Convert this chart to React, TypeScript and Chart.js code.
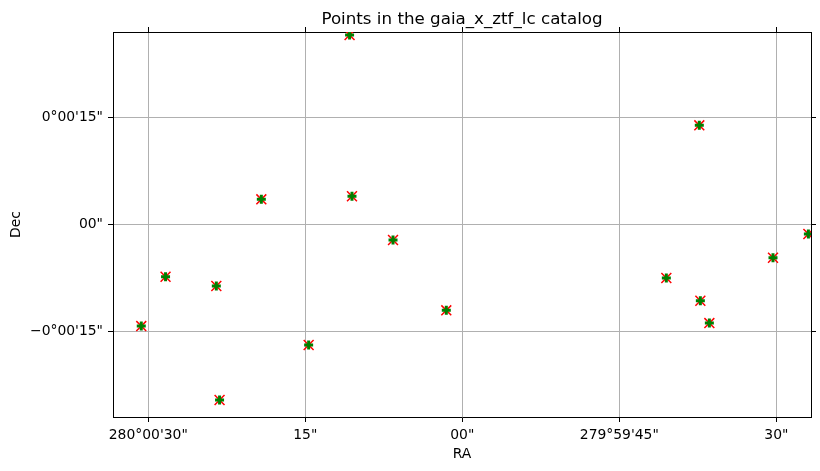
import React, { useEffect, useRef } from "react";
import { Chart, registerables } from "chart.js";

Chart.register(...registerables);

// RA offset from 280°00'00" in arcsec, Dec offset from 0°00'00" in arcsec
const raOffsets = [10.77, -22.64, 19.2, 10.54, 6.62, 28.35, 23.5, 30.67, 14.68, 23.19, 1.53, -19.49, -22.74, -23.6, -29.68, -33.06];
const decOffsets = [26.54, 13.88, 3.5, 3.93, -2.2, -7.35, -8.65, -14.26, -16.92, -24.63, -12.06, -7.53, -10.71, -13.84, -4.68, -1.36];

const raTickValues = [30, 15, 0, -15, -30];
const raTickLabels = ["280°00'30\"", "15\"", "00\"", "279°59'45\"", "30\""];
const decTickValues = [15, 0, -15];
const decTickLabels = ["0°00'15\"", "00\"", "\u22120°00'15\""];

const titleText = "Points in the gaia_x_ztf_lc catalog";
const xLabel = "RA";
const yLabel = "Dec";

const FONT = "'DejaVu Sans', sans-serif";

export default function App() {
  const ref = useRef<HTMLCanvasElement>(null);
  useEffect(() => {
    if (!ref.current) return;
    const pts = raOffsets.map((x, i) => ({ x, y: decOffsets[i] }));
    const setTicks = (vals: number[]) => (s: any) => {
      s.ticks = vals.map((v) => ({ value: v }));
    };
    const chart = new Chart(ref.current, {
      type: "scatter",
      data: {
        datasets: [
          {
            data: pts,
            pointStyle: "cross",
            pointRadius: 4.5,
            borderColor: "#008000",
            backgroundColor: "#008000",
            borderWidth: 3,
          },
          {
            data: pts,
            pointStyle: "crossRot",
            pointRadius: 7,
            borderColor: "#ff0000",
            backgroundColor: "#ff0000",
            borderWidth: 1.5,
          },
        ],
      },
      options: {
        animation: false,
        responsive: false,
        devicePixelRatio: 1,
        layout: { padding: 0 },
        plugins: {
          legend: { display: false },
          tooltip: { enabled: false },
          title: { display: false },
        },
        scales: {
          x: {
            type: "linear",
            position: "bottom",
            reverse: true,
            min: -33.31,
            max: 33.37,
            afterBuildTicks: setTicks(raTickValues),
            afterFit: (s: any) => {
              s.height = 54;
            },
            ticks: {
              color: "#000",
              font: { family: FONT, size: 13.9 },
              padding: 5,
              maxRotation: 0,
              autoSkip: false,
              callback: (v: any) => raTickLabels[raTickValues.indexOf(Number(v))] ?? "",
            },
            grid: { color: "#b0b0b0", lineWidth: 1, tickColor: "#000", tickLength: 5 },
            border: { display: true, color: "#000", width: 1 },
            title: {
              display: true,
              text: xLabel,
              color: "#000",
              font: { family: FONT, size: 13.9 },
              padding: { top: 0, bottom: 8 },
            },
          },
          x2: {
            type: "linear",
            position: "top",
            reverse: true,
            min: -33.31,
            max: 33.37,
            afterBuildTicks: setTicks(raTickValues),
            afterFit: (s: any) => {
              s.height = 32;
            },
            ticks: { display: false },
            grid: { drawOnChartArea: false, tickColor: "#000", tickLength: 5, lineWidth: 1 },
            border: { display: true, color: "#000", width: 1 },
            title: {
              display: true,
              text: titleText,
              color: "#000",
              font: { family: FONT, size: 16.7 },
              padding: { top: 10, bottom: 0 },
            },
          },
          y: {
            type: "linear",
            position: "left",
            min: -27.01,
            max: 26.96,
            afterBuildTicks: setTicks(decTickValues),
            afterFit: (s: any) => {
              s.width = 113;
            },
            ticks: {
              color: "#000",
              font: { family: FONT, size: 13.9 },
              padding: 5,
              autoSkip: false,
              callback: (v: any) => decTickLabels[decTickValues.indexOf(Number(v))] ?? "",
            },
            grid: { color: "#b0b0b0", lineWidth: 1, tickColor: "#000", tickLength: 5 },
            border: { display: true, color: "#000", width: 1 },
            title: {
              display: true,
              text: yLabel,
              color: "#000",
              font: { family: FONT, size: 13.9 },
              padding: { top: 8, bottom: 0 },
            },
          },
          y2: {
            type: "linear",
            position: "right",
            min: -27.01,
            max: 26.96,
            afterBuildTicks: setTicks(decTickValues),
            afterFit: (s: any) => {
              s.width = 9;
            },
            ticks: { display: false },
            grid: { drawOnChartArea: false, tickColor: "#000", tickLength: 5, lineWidth: 1 },
            border: { display: true, color: "#000", width: 1 },
          },
        },
      },
    } as any);
    return () => chart.destroy();
  }, []);
  return (
    <div style={{ position: "absolute", left: 0, top: 0, width: 820, height: 471, background: "#fff" }}>
      <canvas ref={ref} width={820} height={471} style={{ display: "block" }} />
    </div>
  );
}
